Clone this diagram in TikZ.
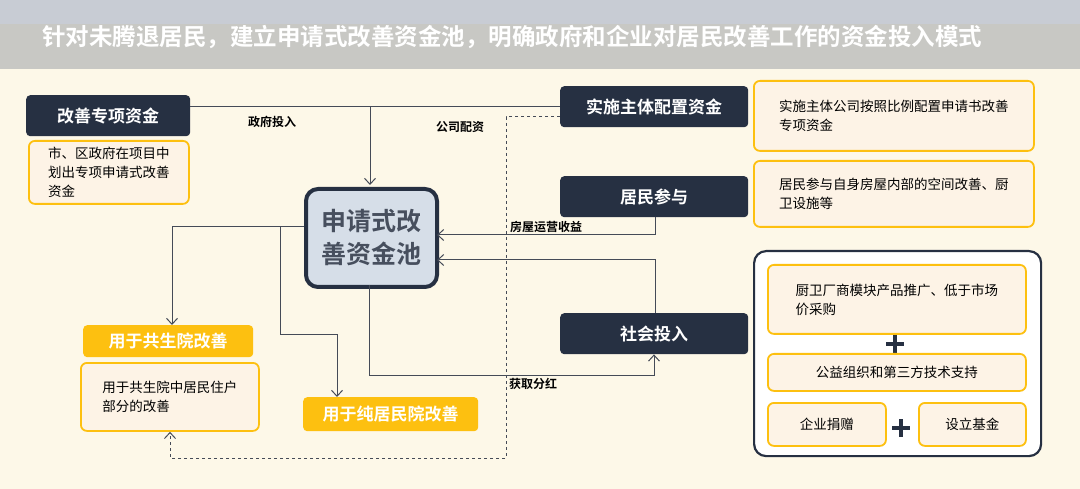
\documentclass[tikz,border=0pt]{standalone}
\usepackage{fontspec}
\newfontfamily\cjk[BoldFont={Noto Sans CJK SC Bold}]{Noto Sans CJK SC}
\usetikzlibrary{arrows.meta,calc}
\definecolor{navy}{HTML}{263042}
\definecolor{gold}{HTML}{FDC010}
\definecolor{cream}{HTML}{FDF8E8}
\definecolor{boxfill}{HTML}{FDF3E6}
\definecolor{lc}{HTML}{454B57}
\definecolor{topstrip}{HTML}{C8CCD4}
\definecolor{band}{HTML}{C8C8C4}
\definecolor{poolfill}{HTML}{D6DEE8}
\tikzset{
 dark/.style={fill=navy,rounded corners=4pt,anchor=north west,inner sep=0pt},
 dtxt/.style={text=white,font=\cjk\fontsize{17}{20}\selectfont\bfseries},
 ybox/.style={draw=gold,line width=1.8pt,fill=boxfill,rounded corners=6pt,anchor=north west,font=\cjk\fontsize{13.5}{19}\selectfont,inner sep=0pt,align=center},
 btxt/.style={font=\cjk\fontsize{13.5}{19}\selectfont,align=left},
 yfill/.style={fill=gold,rounded corners=4pt,anchor=north west,inner sep=0pt},
 conn/.style={draw=lc,line width=1pt},
 arr/.style={conn,-{Straight Barb[length=6pt,width=11pt]}},
 lbl/.style={font=\cjk\fontsize{12}{13}\selectfont\bfseries,inner sep=0pt},
 plusmark/.style={draw=navy,line width=4pt}
}
\begin{document}
\begin{tikzpicture}[x=1pt,y=-1pt]
\useasboundingbox (0,0) rectangle (1080,489);
\fill[cream] (0,0) rectangle (1080,489);
\fill[topstrip] (0,0) rectangle (1080,24);
\fill[band] (0,24) rectangle (1080,69);
\node[text=white,font=\cjk\fontsize{23.5}{26}\selectfont\bfseries,anchor=west,inner sep=0pt] (title) at (42,37) {针对未腾退居民，建立申请式改善资金池，明确政府和企业对居民改善工作的资金投入模式};

% left top
\node[dark,minimum width=164pt,minimum height=41pt] (gf) at (26,95) {};
\node[dtxt] at (gf.center) {改善专项资金};
\node[ybox,minimum width=160pt,minimum height=63pt] (gfd) at (28,140) {};
\node[btxt] at (gfd.center) {市、区政府在项目中\\划出专项申请式改善\\资金};

% pool
\node[draw=navy,line width=4pt,fill=poolfill,rounded corners=12pt,minimum width=131pt,minimum height=98pt,anchor=north west,inner sep=0pt] (pool) at (304,187) {};
\node[font=\cjk\fontsize{25}{33}\selectfont\bfseries,text=navy!85,align=center] at (pool.center) {申请式改\\善资金池};

% right column
\node[dark,minimum width=188pt,minimum height=41pt] (ss) at (560,86) {};
\node[dtxt] at (ss.center) {实施主体配置资金};
\node[ybox,minimum width=280pt,minimum height=70pt] (ssd) at (753,80) {};
\node[btxt] at (ssd.center) {实施主体公司按照比例配置申请书改善\\专项资金};

\node[dark,minimum width=188pt,minimum height=41pt] (jm) at (560,176) {};
\node[dtxt] at (jm.center) {居民参与};
\node[ybox,minimum width=280pt,minimum height=66pt] (jmd) at (753,160) {};
\node[btxt] at (jmd.center) {居民参与自身房屋内部的空间改善、厨\\卫设施等};

\node[dark,minimum width=188pt,minimum height=41pt] (sh) at (560,313) {};
\node[dtxt] at (sh.center) {社会投入};

\node[draw=navy,line width=2.2pt,fill=white,rounded corners=12pt,minimum width=287pt,minimum height=205pt,anchor=north west,inner sep=0pt] (big) at (753,250) {};
\node[ybox,minimum width=258pt,minimum height=69pt] (s1) at (767,264) {};
\node[btxt] at (s1.center) {厨卫厂商模块产品推广、低于市场\\价采购};
\coordinate (p1) at (895,344);
\draw[plusmark] ($(p1)+(-9,0)$) -- ++(18,0) ($(p1)+(0,-9)$) -- ++(0,18);
\node[ybox,minimum width=258pt,minimum height=37pt] (s2) at (767,353) {公益组织和第三方技术支持};
\node[ybox,minimum width=118pt,minimum height=43pt] (s3) at (767,402) {企业捐赠};
\coordinate (p2) at (901,428);
\draw[plusmark] ($(p2)+(-9,0)$) -- ++(18,0) ($(p2)+(0,-9)$) -- ++(0,18);
\node[ybox,minimum width=107pt,minimum height=43pt] (s4) at (918,402) {设立基金};

% bottom left
\node[yfill,minimum width=170pt,minimum height=32pt] (gs) at (83,325) {};
\node[dtxt] at (gs.center) {用于共生院改善};
\node[ybox,minimum width=178pt,minimum height=68pt] (gsd) at (80,362) {};
\node[btxt] at (gsd.center) {用于共生院中居民住户\\部分的改善};
\node[yfill,minimum width=175pt,minimum height=34pt] (cj) at (303,397) {};
\node[dtxt] at (cj.center) {用于纯居民院改善};

% connectors
\coordinate (j1) at (370,107);
\draw[conn] (gf.east |- j1) -- (ss.west |- j1);
\draw[arr] (j1) -- (370,185);
\node[lbl] (l1) at (272,122) {政府投入};
\node[lbl] (l2) at (460,127) {公司配资};
\draw[conn,dashed,-{Straight Barb[length=6pt,width=11pt]}] (ss.west |- 0,117) -- (506,117) -- (506,458) -- (170,458) -- (gsd.south -| 170,0);
\draw[arr] (jm.south -| 655,0) |- (437,235);
\node[lbl,anchor=west] (l3) at (510,227) {房屋运营收益};
\draw[arr] (sh.north -| 655,0) |- (437,260);
\draw[arr] (369,285) |- (654,375) -- (sh.south -| 654,0);
\node[lbl,anchor=west] (l4) at (509,384) {获取分红};
\draw[arr] (pool.west |- 0,227) -- (172,227) -- (gs.north -| 172,0);
\draw[arr] (280,227) -- (280,335) -- (337,335) -- (cj.north -| 337,0);
\end{tikzpicture}
\end{document}
